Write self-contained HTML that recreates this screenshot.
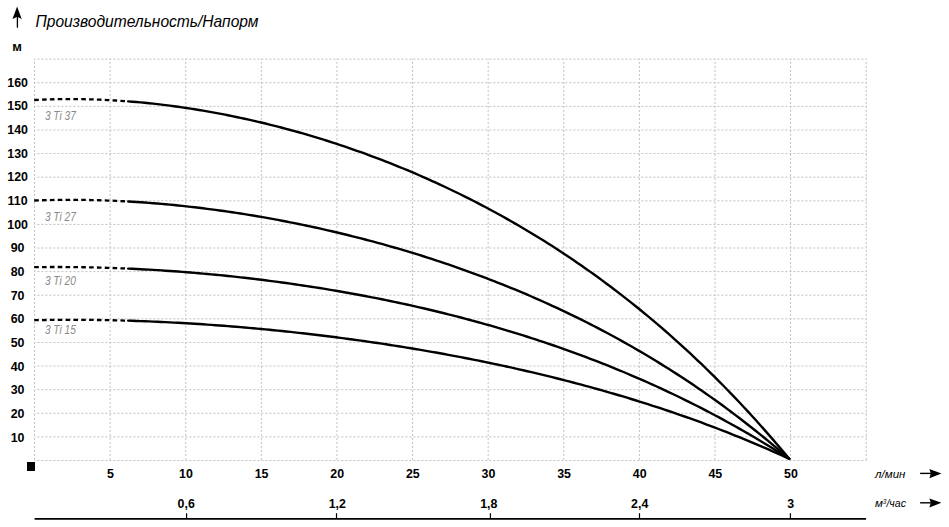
<!DOCTYPE html>
<html><head><meta charset="utf-8"><style>
html,body{margin:0;padding:0;background:#fff;width:949px;height:527px;overflow:hidden}
svg{position:absolute;left:0;top:0}
.g{stroke:#c0c0c0;stroke-width:1;stroke-dasharray:2 2}
.cd{fill:none;stroke:#000;stroke-width:2.3;stroke-dasharray:4.6 3.24}
.cs{fill:none;stroke:#000;stroke-width:2.4;stroke-linecap:round;stroke-linejoin:round}
text{font-family:"Liberation Sans",sans-serif}
.yl{font-size:12.4px;font-weight:bold;text-anchor:middle;fill:#000}
.xl{font-size:12.4px;font-weight:bold;text-anchor:middle;fill:#000}
.lb{font-size:12px;font-style:italic;fill:#8a8a8a}
.it{font-size:11.5px;font-style:italic;fill:#000}
.tk{stroke:#000;stroke-width:1.2}
</style></head><body>
<svg width="949" height="527" viewBox="0 0 949 527">
<line x1="17.4" y1="15" x2="17.4" y2="27.7" stroke="#000" stroke-width="1.3"/>
<path d="M17.1,6.6 L21.7,19 L17.3,16.8 L12.5,19 Z" fill="#000"/>
<text x="35.5" y="27.3" style="font-size:16.5px;font-style:italic" textLength="223" lengthAdjust="spacingAndGlyphs">Производительность/Напорм</text>
<text x="17.1" y="51" style="font-size:13px;font-weight:bold;text-anchor:middle">м</text>
<line x1="34.50" y1="58.9" x2="34.50" y2="460.5" class="g" stroke-dashoffset="1"/>
<line x1="110.11" y1="58.9" x2="110.11" y2="460.5" class="g" stroke-dashoffset="1"/>
<line x1="185.72" y1="58.9" x2="185.72" y2="460.5" class="g" stroke-dashoffset="1"/>
<line x1="261.33" y1="58.9" x2="261.33" y2="460.5" class="g" stroke-dashoffset="1"/>
<line x1="336.94" y1="58.9" x2="336.94" y2="460.5" class="g" stroke-dashoffset="1"/>
<line x1="412.55" y1="58.9" x2="412.55" y2="460.5" class="g" stroke-dashoffset="1"/>
<line x1="488.16" y1="58.9" x2="488.16" y2="460.5" class="g" stroke-dashoffset="1"/>
<line x1="563.77" y1="58.9" x2="563.77" y2="460.5" class="g" stroke-dashoffset="1"/>
<line x1="639.38" y1="58.9" x2="639.38" y2="460.5" class="g" stroke-dashoffset="1"/>
<line x1="714.99" y1="58.9" x2="714.99" y2="460.5" class="g" stroke-dashoffset="1"/>
<line x1="790.60" y1="58.9" x2="790.60" y2="460.5" class="g" stroke-dashoffset="1"/>
<line x1="866.21" y1="58.9" x2="866.21" y2="460.5" class="g" stroke-dashoffset="1"/>
<line x1="34.5" y1="460.50" x2="866.6" y2="460.50" class="g" stroke-dashoffset="1.1"/>
<line x1="34.5" y1="436.89" x2="866.6" y2="436.89" class="g" stroke-dashoffset="1.1"/>
<line x1="34.5" y1="413.28" x2="866.6" y2="413.28" class="g" stroke-dashoffset="1.1"/>
<line x1="34.5" y1="389.67" x2="866.6" y2="389.67" class="g" stroke-dashoffset="1.1"/>
<line x1="34.5" y1="366.06" x2="866.6" y2="366.06" class="g" stroke-dashoffset="1.1"/>
<line x1="34.5" y1="342.45" x2="866.6" y2="342.45" class="g" stroke-dashoffset="1.1"/>
<line x1="34.5" y1="318.84" x2="866.6" y2="318.84" class="g" stroke-dashoffset="1.1"/>
<line x1="34.5" y1="295.23" x2="866.6" y2="295.23" class="g" stroke-dashoffset="1.1"/>
<line x1="34.5" y1="271.62" x2="866.6" y2="271.62" class="g" stroke-dashoffset="1.1"/>
<line x1="34.5" y1="248.01" x2="866.6" y2="248.01" class="g" stroke-dashoffset="1.1"/>
<line x1="34.5" y1="224.40" x2="866.6" y2="224.40" class="g" stroke-dashoffset="1.1"/>
<line x1="34.5" y1="200.79" x2="866.6" y2="200.79" class="g" stroke-dashoffset="1.1"/>
<line x1="34.5" y1="177.18" x2="866.6" y2="177.18" class="g" stroke-dashoffset="1.1"/>
<line x1="34.5" y1="153.57" x2="866.6" y2="153.57" class="g" stroke-dashoffset="1.1"/>
<line x1="34.5" y1="129.96" x2="866.6" y2="129.96" class="g" stroke-dashoffset="1.1"/>
<line x1="34.5" y1="106.35" x2="866.6" y2="106.35" class="g" stroke-dashoffset="1.1"/>
<line x1="34.5" y1="82.74" x2="866.6" y2="82.74" class="g" stroke-dashoffset="1.1"/>
<line x1="34.5" y1="59.13" x2="866.6" y2="59.13" class="g" stroke-dashoffset="1.1"/>
<text x="17.6" y="441.80" class="yl">10</text>
<text x="17.6" y="418.13" class="yl">20</text>
<text x="17.6" y="394.46" class="yl">30</text>
<text x="17.6" y="370.79" class="yl">40</text>
<text x="17.6" y="347.12" class="yl">50</text>
<text x="17.6" y="323.45" class="yl">60</text>
<text x="17.6" y="299.78" class="yl">70</text>
<text x="17.6" y="276.11" class="yl">80</text>
<text x="17.6" y="252.44" class="yl">90</text>
<text x="17.6" y="228.77" class="yl">100</text>
<text x="17.6" y="205.10" class="yl">110</text>
<text x="17.6" y="181.43" class="yl">120</text>
<text x="17.6" y="157.76" class="yl">130</text>
<text x="17.6" y="134.09" class="yl">140</text>
<text x="17.6" y="110.42" class="yl">150</text>
<text x="17.6" y="86.75" class="yl">160</text>
<text x="44.9" y="120.2" class="lb" textLength="31" lengthAdjust="spacingAndGlyphs">3 Ti 37</text>
<text x="44.9" y="220.7" class="lb" textLength="31" lengthAdjust="spacingAndGlyphs">3 Ti 27</text>
<text x="44.9" y="284.9" class="lb" textLength="31" lengthAdjust="spacingAndGlyphs">3 Ti 20</text>
<text x="44.9" y="333.9" class="lb" textLength="31" lengthAdjust="spacingAndGlyphs">3 Ti 15</text>
<path d="M34.20,100.02 L38.29,99.82 L42.37,99.64 L46.46,99.48 L50.55,99.35 L54.63,99.25 L58.72,99.17 L62.81,99.11 L66.90,99.08 L70.98,99.07 L75.07,99.09 L79.16,99.12 L83.24,99.19 L87.33,99.27 L91.42,99.38 L95.50,99.51 L99.59,99.66 L103.68,99.83 L107.77,100.03 L111.85,100.25 L115.94,100.49 L120.03,100.75 L124.11,101.04 L128.20,101.34" class="cd"/>
<path d="M128.20,101.34 L132.36,101.68 L136.51,102.03 L140.67,102.41 L144.83,102.81 L148.99,103.23 L153.14,103.67 L157.30,104.14 L161.46,104.62 L165.62,105.13 L169.77,105.66 L173.93,106.21 L178.09,106.78 L182.24,107.37 L186.40,107.98 L190.56,108.62 L194.72,109.27 L198.87,109.95 L203.03,110.64 L207.19,111.36 L211.34,112.10 L215.50,112.85 L219.66,113.63 L223.82,114.43 L227.97,115.25 L232.13,116.09 L236.29,116.95 L240.45,117.83 L244.60,118.73 L248.76,119.65 L252.92,120.59 L257.07,121.55 L261.23,122.53 L265.39,123.53 L269.55,124.55 L273.70,125.59 L277.86,126.66 L282.02,127.74 L286.17,128.84 L290.33,129.97 L294.49,131.11 L298.65,132.27 L302.80,133.46 L306.96,134.67 L311.12,135.89 L315.28,137.14 L319.43,138.41 L323.59,139.69 L327.75,141.00 L331.90,142.33 L336.06,143.68 L340.22,145.06 L344.38,146.45 L348.53,147.87 L352.69,149.30 L356.85,150.76 L361.01,152.24 L365.16,153.74 L369.32,155.26 L373.48,156.80 L377.63,158.37 L381.79,159.96 L385.95,161.57 L390.11,163.20 L394.26,164.86 L398.42,166.53 L402.58,168.24 L406.73,169.96 L410.89,171.70 L415.05,173.47 L419.21,175.27 L423.36,177.08 L427.52,178.92 L431.68,180.79 L435.84,182.68 L439.99,184.59 L444.15,186.52 L448.31,188.49 L452.46,190.47 L456.62,192.48 L460.78,194.52 L464.94,196.58 L469.09,198.67 L473.25,200.78 L477.41,202.92 L481.56,205.08 L485.72,207.27 L489.88,209.49 L494.04,211.73 L498.19,214.01 L502.35,216.30 L506.51,218.63 L510.67,220.98 L514.82,223.37 L518.98,225.78 L523.14,228.22 L527.29,230.68 L531.45,233.18 L535.61,235.71 L539.77,238.26 L543.92,240.85 L548.08,243.47 L552.24,246.11 L556.39,248.79 L560.55,251.50 L564.71,254.24 L568.87,257.01 L573.02,259.82 L577.18,262.65 L581.34,265.52 L585.50,268.42 L589.65,271.36 L593.81,274.33 L597.97,277.33 L602.12,280.37 L606.28,283.44 L610.44,286.55 L614.60,289.69 L618.75,292.87 L622.91,296.08 L627.07,299.33 L631.23,302.62 L635.38,305.94 L639.54,309.30 L643.70,312.70 L647.85,316.14 L652.01,319.62 L656.17,323.13 L660.33,326.69 L664.48,330.28 L668.64,333.92 L672.80,337.59 L676.95,341.31 L681.11,345.07 L685.27,348.87 L689.43,352.71 L693.58,356.59 L697.74,360.52 L701.90,364.49 L706.06,368.51 L710.21,372.57 L714.37,376.68 L718.53,380.83 L722.68,385.02 L726.84,389.27 L731.00,393.56 L735.16,397.89 L739.31,402.28 L743.47,406.71 L747.63,411.19 L751.78,415.72 L755.94,420.31 L760.10,424.94 L764.26,429.62 L768.41,434.35 L772.57,439.13 L776.73,443.97 L780.89,448.86 L785.04,453.80 L789.20,458.80" class="cs"/>
<path d="M34.20,200.52 L38.29,200.37 L42.37,200.24 L46.46,200.13 L50.55,200.03 L54.63,199.95 L58.72,199.89 L62.81,199.85 L66.90,199.83 L70.98,199.82 L75.07,199.83 L79.16,199.86 L83.24,199.91 L87.33,199.97 L91.42,200.05 L95.50,200.15 L99.59,200.26 L103.68,200.39 L107.77,200.53 L111.85,200.69 L115.94,200.87 L120.03,201.06 L124.11,201.27 L128.20,201.50" class="cd"/>
<path d="M128.20,201.50 L132.36,201.74 L136.51,202.00 L140.67,202.28 L144.83,202.57 L148.99,202.88 L153.14,203.21 L157.30,203.55 L161.46,203.90 L165.62,204.27 L169.77,204.66 L173.93,205.06 L178.09,205.48 L182.24,205.91 L186.40,206.36 L190.56,206.82 L194.72,207.30 L198.87,207.79 L203.03,208.30 L207.19,208.82 L211.34,209.36 L215.50,209.91 L219.66,210.48 L223.82,211.06 L227.97,211.65 L232.13,212.26 L236.29,212.89 L240.45,213.53 L244.60,214.18 L248.76,214.85 L252.92,215.53 L257.07,216.23 L261.23,216.94 L265.39,217.67 L269.55,218.41 L273.70,219.16 L277.86,219.93 L282.02,220.72 L286.17,221.52 L290.33,222.33 L294.49,223.16 L298.65,224.00 L302.80,224.86 L306.96,225.73 L311.12,226.61 L315.28,227.51 L319.43,228.43 L323.59,229.36 L327.75,230.31 L331.90,231.27 L336.06,232.24 L340.22,233.23 L344.38,234.23 L348.53,235.25 L352.69,236.29 L356.85,237.34 L361.01,238.40 L365.16,239.49 L369.32,240.58 L373.48,241.69 L377.63,242.82 L381.79,243.96 L385.95,245.12 L390.11,246.30 L394.26,247.49 L398.42,248.69 L402.58,249.92 L406.73,251.15 L410.89,252.41 L415.05,253.68 L419.21,254.97 L423.36,256.27 L427.52,257.59 L431.68,258.93 L435.84,260.29 L439.99,261.66 L444.15,263.05 L448.31,264.46 L452.46,265.88 L456.62,267.33 L460.78,268.79 L464.94,270.27 L469.09,271.76 L473.25,273.28 L477.41,274.81 L481.56,276.37 L485.72,277.94 L489.88,279.53 L494.04,281.14 L498.19,282.77 L502.35,284.41 L506.51,286.08 L510.67,287.77 L514.82,289.48 L518.98,291.21 L523.14,292.95 L527.29,294.72 L531.45,296.51 L535.61,298.33 L539.77,300.16 L543.92,302.01 L548.08,303.89 L552.24,305.79 L556.39,307.71 L560.55,309.65 L564.71,311.61 L568.87,313.60 L573.02,315.61 L577.18,317.65 L581.34,319.70 L585.50,321.78 L589.65,323.89 L593.81,326.02 L597.97,328.17 L602.12,330.35 L606.28,332.56 L610.44,334.78 L614.60,337.04 L618.75,339.32 L622.91,341.63 L627.07,343.96 L631.23,346.32 L635.38,348.71 L639.54,351.12 L643.70,353.56 L647.85,356.03 L652.01,358.53 L656.17,361.05 L660.33,363.61 L664.48,366.19 L668.64,368.80 L672.80,371.44 L676.95,374.12 L681.11,376.82 L685.27,379.55 L689.43,382.32 L693.58,385.11 L697.74,387.94 L701.90,390.79 L706.06,393.68 L710.21,396.61 L714.37,399.56 L718.53,402.55 L722.68,405.58 L726.84,408.63 L731.00,411.72 L735.16,414.85 L739.31,418.01 L743.47,421.20 L747.63,424.44 L751.78,427.70 L755.94,431.01 L760.10,434.35 L764.26,437.73 L768.41,441.14 L772.57,444.60 L776.73,448.09 L780.89,451.62 L785.04,455.19 L789.20,458.80" class="cs"/>
<path d="M34.20,267.16 L38.29,267.11 L42.37,267.06 L46.46,267.03 L50.55,267.01 L54.63,267.00 L58.72,267.00 L62.81,267.01 L66.90,267.04 L70.98,267.07 L75.07,267.11 L79.16,267.17 L83.24,267.23 L87.33,267.30 L91.42,267.39 L95.50,267.48 L99.59,267.59 L103.68,267.70 L107.77,267.83 L111.85,267.97 L115.94,268.11 L120.03,268.27 L124.11,268.43 L128.20,268.61" class="cd"/>
<path d="M128.20,268.61 L132.36,268.80 L136.51,269.00 L140.67,269.21 L144.83,269.43 L148.99,269.66 L153.14,269.90 L157.30,270.15 L161.46,270.41 L165.62,270.68 L169.77,270.97 L173.93,271.26 L178.09,271.56 L182.24,271.87 L186.40,272.20 L190.56,272.53 L194.72,272.87 L198.87,273.23 L203.03,273.59 L207.19,273.97 L211.34,274.35 L215.50,274.74 L219.66,275.15 L223.82,275.56 L227.97,275.99 L232.13,276.43 L236.29,276.87 L240.45,277.33 L244.60,277.80 L248.76,278.27 L252.92,278.76 L257.07,279.26 L261.23,279.77 L265.39,280.29 L269.55,280.82 L273.70,281.36 L277.86,281.91 L282.02,282.47 L286.17,283.04 L290.33,283.63 L294.49,284.22 L298.65,284.82 L302.80,285.44 L306.96,286.07 L311.12,286.70 L315.28,287.35 L319.43,288.01 L323.59,288.68 L327.75,289.37 L331.90,290.06 L336.06,290.76 L340.22,291.48 L344.38,292.21 L348.53,292.95 L352.69,293.70 L356.85,294.46 L361.01,295.23 L365.16,296.02 L369.32,296.81 L373.48,297.62 L377.63,298.44 L381.79,299.28 L385.95,300.12 L390.11,300.98 L394.26,301.85 L398.42,302.73 L402.58,303.63 L406.73,304.53 L410.89,305.45 L415.05,306.39 L419.21,307.33 L423.36,308.29 L427.52,309.26 L431.68,310.25 L435.84,311.25 L439.99,312.26 L444.15,313.28 L448.31,314.32 L452.46,315.37 L456.62,316.44 L460.78,317.52 L464.94,318.61 L469.09,319.72 L473.25,320.84 L477.41,321.97 L481.56,323.12 L485.72,324.29 L489.88,325.47 L494.04,326.66 L498.19,327.87 L502.35,329.10 L506.51,330.34 L510.67,331.59 L514.82,332.86 L518.98,334.15 L523.14,335.45 L527.29,336.76 L531.45,338.10 L535.61,339.45 L539.77,340.81 L543.92,342.19 L548.08,343.59 L552.24,345.01 L556.39,346.44 L560.55,347.89 L564.71,349.35 L568.87,350.84 L573.02,352.34 L577.18,353.86 L581.34,355.39 L585.50,356.95 L589.65,358.52 L593.81,360.11 L597.97,361.72 L602.12,363.34 L606.28,364.99 L610.44,366.65 L614.60,368.34 L618.75,370.04 L622.91,371.76 L627.07,373.51 L631.23,375.27 L635.38,377.05 L639.54,378.85 L643.70,380.67 L647.85,382.52 L652.01,384.38 L656.17,386.27 L660.33,388.17 L664.48,390.10 L668.64,392.05 L672.80,394.02 L676.95,396.01 L681.11,398.02 L685.27,400.06 L689.43,402.11 L693.58,404.20 L697.74,406.30 L701.90,408.43 L706.06,410.58 L710.21,412.75 L714.37,414.95 L718.53,417.17 L722.68,419.41 L726.84,421.68 L731.00,423.98 L735.16,426.30 L739.31,428.64 L743.47,431.01 L747.63,433.40 L751.78,435.82 L755.94,438.27 L760.10,440.74 L764.26,443.24 L768.41,445.77 L772.57,448.32 L776.73,450.90 L780.89,453.50 L785.04,456.14 L789.20,458.80" class="cs"/>
<path d="M34.20,320.22 L38.29,320.13 L42.37,320.06 L46.46,319.99 L50.55,319.94 L54.63,319.89 L58.72,319.86 L62.81,319.83 L66.90,319.81 L70.98,319.81 L75.07,319.81 L79.16,319.82 L83.24,319.84 L87.33,319.87 L91.42,319.91 L95.50,319.96 L99.59,320.02 L103.68,320.09 L107.77,320.16 L111.85,320.25 L115.94,320.34 L120.03,320.44 L124.11,320.55 L128.20,320.67" class="cd"/>
<path d="M128.20,320.67 L132.36,320.80 L136.51,320.94 L140.67,321.09 L144.83,321.24 L148.99,321.41 L153.14,321.58 L157.30,321.76 L161.46,321.95 L165.62,322.15 L169.77,322.36 L173.93,322.58 L178.09,322.80 L182.24,323.03 L186.40,323.27 L190.56,323.52 L194.72,323.78 L198.87,324.04 L203.03,324.32 L207.19,324.60 L211.34,324.89 L215.50,325.19 L219.66,325.49 L223.82,325.81 L227.97,326.13 L232.13,326.46 L236.29,326.80 L240.45,327.15 L244.60,327.50 L248.76,327.86 L252.92,328.23 L257.07,328.61 L261.23,329.00 L265.39,329.39 L269.55,329.79 L273.70,330.20 L277.86,330.62 L282.02,331.05 L286.17,331.48 L290.33,331.92 L294.49,332.37 L298.65,332.83 L302.80,333.29 L306.96,333.77 L311.12,334.25 L315.28,334.74 L319.43,335.24 L323.59,335.74 L327.75,336.26 L331.90,336.78 L336.06,337.31 L340.22,337.85 L344.38,338.39 L348.53,338.95 L352.69,339.51 L356.85,340.08 L361.01,340.66 L365.16,341.25 L369.32,341.84 L373.48,342.45 L377.63,343.06 L381.79,343.68 L385.95,344.31 L390.11,344.95 L394.26,345.60 L398.42,346.25 L402.58,346.92 L406.73,347.59 L410.89,348.27 L415.05,348.96 L419.21,349.66 L423.36,350.37 L427.52,351.09 L431.68,351.82 L435.84,352.55 L439.99,353.30 L444.15,354.05 L448.31,354.82 L452.46,355.59 L456.62,356.38 L460.78,357.17 L464.94,357.97 L469.09,358.78 L473.25,359.60 L477.41,360.43 L481.56,361.28 L485.72,362.13 L489.88,362.99 L494.04,363.86 L498.19,364.74 L502.35,365.63 L506.51,366.54 L510.67,367.45 L514.82,368.37 L518.98,369.31 L523.14,370.25 L527.29,371.21 L531.45,372.18 L535.61,373.16 L539.77,374.15 L543.92,375.15 L548.08,376.16 L552.24,377.18 L556.39,378.22 L560.55,379.27 L564.71,380.33 L568.87,381.40 L573.02,382.48 L577.18,383.58 L581.34,384.68 L585.50,385.80 L589.65,386.94 L593.81,388.08 L597.97,389.24 L602.12,390.41 L606.28,391.59 L610.44,392.79 L614.60,394.00 L618.75,395.23 L622.91,396.46 L627.07,397.71 L631.23,398.98 L635.38,400.26 L639.54,401.55 L643.70,402.86 L647.85,404.18 L652.01,405.52 L656.17,406.87 L660.33,408.23 L664.48,409.61 L668.64,411.01 L672.80,412.42 L676.95,413.85 L681.11,415.29 L685.27,416.75 L689.43,418.22 L693.58,419.71 L697.74,421.22 L701.90,422.74 L706.06,424.28 L710.21,425.83 L714.37,427.41 L718.53,429.00 L722.68,430.60 L726.84,432.23 L731.00,433.87 L735.16,435.53 L739.31,437.21 L743.47,438.90 L747.63,440.61 L751.78,442.35 L755.94,444.10 L760.10,445.87 L764.26,447.66 L768.41,449.46 L772.57,451.29 L776.73,453.14 L780.89,455.01 L785.04,456.89 L789.20,458.80" class="cs"/>
<text x="110.41" y="478.3" class="xl">5</text>
<text x="186.02" y="478.3" class="xl">10</text>
<text x="261.63" y="478.3" class="xl">15</text>
<text x="337.24" y="478.3" class="xl">20</text>
<text x="412.85" y="478.3" class="xl">25</text>
<text x="488.46" y="478.3" class="xl">30</text>
<text x="564.07" y="478.3" class="xl">35</text>
<text x="639.68" y="478.3" class="xl">40</text>
<text x="715.29" y="478.3" class="xl">45</text>
<text x="790.90" y="478.3" class="xl">50</text>
<text x="186.20" y="507.8" class="xl">0,6</text>
<line x1="186.60" y1="513.2" x2="186.60" y2="518.5" class="tk"/>
<text x="337.30" y="507.8" class="xl">1,2</text>
<line x1="336.50" y1="513.2" x2="336.50" y2="518.5" class="tk"/>
<text x="488.80" y="507.8" class="xl">1,8</text>
<line x1="490.40" y1="513.2" x2="490.40" y2="518.5" class="tk"/>
<text x="639.70" y="507.8" class="xl">2,4</text>
<line x1="639.50" y1="513.2" x2="639.50" y2="518.5" class="tk"/>
<text x="790.60" y="507.8" class="xl">3</text>
<line x1="790.40" y1="513.2" x2="790.40" y2="518.5" class="tk"/>
<rect x="27" y="462" width="8" height="9" fill="#000"/>
<line x1="34.6" y1="518.9" x2="866.1" y2="518.9" stroke="#000" stroke-width="1.9"/>
<text x="875.1" y="477.5" class="it">л/мин</text>
<text x="874.9" y="506.9" class="it">м<tspan dy="-3.3" style="font-size:6.5px">3</tspan><tspan dy="3.3" textLength="19.5" lengthAdjust="spacingAndGlyphs">/час</tspan></text>
<line x1="920.1" y1="473.4" x2="931" y2="473.4" stroke="#000" stroke-width="1.4"/>
<path d="M929.4,469.1 L941.4,473.4 L929.4,478.2 L930.8,473.4 Z" fill="#000"/>
<line x1="920.1" y1="502.8" x2="931" y2="502.8" stroke="#000" stroke-width="1.4"/>
<path d="M929.4,498.5 L941.4,502.8 L929.4,507.6 L930.8,502.8 Z" fill="#000"/>
</svg>
</body></html>
